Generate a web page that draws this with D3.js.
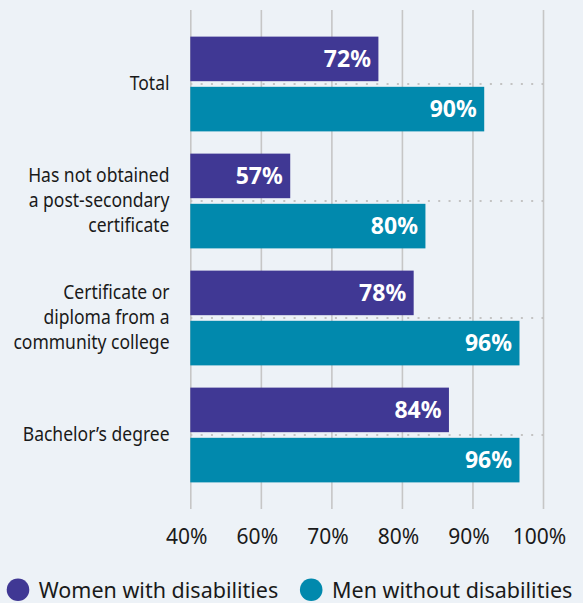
<!DOCTYPE html>
<html>
<head>
<meta charset="utf-8">
<script src="https://cdn.jsdelivr.net/npm/d3@7/dist/d3.min.js"></script>
<style>
  html, body { margin: 0; padding: 0; background: #edf2f7; }
  svg { display: block; font-family: "Noto Sans", "Open Sans", sans-serif; }
</style>
</head>
<body>
<svg id="chart" width="583" height="603"></svg>
<script>
// Employment rate by highest level of education
const categories = ["Total", "No post-secondary", "College", "Bachelor"];
const categoryLines = [
  ["Total"],
  ["Has not obtained", "a post-secondary", "certificate"],
  ["Certificate or", "diploma from a", "community college"],
  ["Bachelor’s degree"]
];
const seriesNames = ["Women with disabilities", "Men without disabilities"];
const womenValues = [72, 57, 78, 84];
const menValues = [90, 80, 96, 96];
const tickLabels = ["40%", "60%", "70%", "80%", "90%", "100%"];
const seriesColors = ["#403894", "#0189ad"];

const W = 583, H = 603;
const plotLeft = 190.3, plotRight = 543, plotTop = 10, plotBottom = 509;

const svg = d3.select("#chart");
svg.append("rect").attr("width", W).attr("height", H).attr("fill", "#edf2f7");

const x = d3.scaleLinear().domain([40, 100]).range([plotLeft, plotRight]);
const gridX = d3.scalePoint().domain(tickLabels).range(x.range());

const y0 = d3.scaleBand().domain(categories)
  .range([plotTop, plotBottom]).paddingInner(0.19).paddingOuter(0.2275);
const y1 = d3.scaleBand().domain(seriesNames)
  .range([0, y0.bandwidth()]).paddingInner(0.112);
const color = d3.scaleOrdinal().domain(seriesNames).range(seriesColors);

// Vertical gridlines and bottom labels
const axis = svg.append("g")
  .attr("transform", `translate(0,${plotBottom})`)
  .call(d3.axisBottom(gridX).tickSize(-(plotBottom - plotTop)).tickPadding(20));
axis.select(".domain").remove();
axis.selectAll(".tick line").attr("stroke", "#c6c6c6").attr("stroke-width", 1.6);
axis.selectAll(".tick text")
  .attr("fill", "#1a1a1a").attr("font-size", 21).attr("dx", -4)
  .style("font-family", "'Noto Sans', sans-serif");

const rows = categories.map((c, i) => ({
  key: c, lines: categoryLines[i],
  values: [womenValues[i], menValues[i]]
}));

// Dotted separators between the paired bars
svg.append("g").selectAll("line").data(rows).join("line")
  .attr("x1", plotLeft).attr("x2", plotRight + 2)
  .attr("y1", d => y0(d.key) + y0.bandwidth() / 2)
  .attr("y2", d => y0(d.key) + y0.bandwidth() / 2)
  .attr("stroke", "#c3c3c3").attr("stroke-width", 2)
  .attr("stroke-dasharray", "2,8.33");

// Bars
const groups = svg.append("g").selectAll("g").data(rows).join("g")
  .attr("transform", d => `translate(0,${y0(d.key)})`);

const cells = groups.selectAll("g")
  .data(d => d.values.map((v, j) => ({ series: seriesNames[j], value: v })))
  .join("g");

cells.append("rect")
  .attr("x", x(40))
  .attr("y", d => y1(d.series))
  .attr("width", d => x(d.value) - x(40))
  .attr("height", y1.bandwidth())
  .attr("fill", d => color(d.series));

cells.append("text")
  .attr("x", d => x(d.value) - 7.5)
  .attr("y", d => y1(d.series) + y1.bandwidth() / 2)
  .attr("dy", "0.36em")
  .attr("text-anchor", "end")
  .attr("fill", "#ffffff")
  .attr("font-size", 23)
  .attr("font-weight", 700)
  .text(d => d.value + "%");

// Category labels (semi-condensed)
const labelRight = 169.5;
const lineH = 25;
const labels = svg.append("g").selectAll("text").data(rows).join("text")
  .attr("transform", d => `translate(${labelRight},${y0(d.key) + y0.bandwidth() / 2 + 6}) scale(0.875,1)`)
  .attr("text-anchor", "end")
  .attr("fill", "#1a1a1a")
  .attr("font-size", 20);
labels.selectAll("tspan")
  .data(d => d.lines.map((t, k) => ({ t, k, n: d.lines.length })))
  .join("tspan")
  .attr("x", 0)
  .attr("y", d => (d.k - (d.n - 1) / 2) * lineH)
  .text(d => d.t);

// Legend
const legend = svg.append("g");
let lx = 6.7;
const ly = 589.8, r = 11.3;
seriesNames.forEach((name, i) => {
  legend.append("circle")
    .attr("cx", lx + r).attr("cy", ly).attr("r", r)
    .attr("fill", color(name));
  const t = legend.append("text")
    .attr("x", lx + 2 * r + 9.5).attr("y", 597.5)
    .attr("fill", "#1a1a1a").attr("font-size", 21.5)
    .text(name);
  lx = lx + 2 * r + 9.5 + t.node().getComputedTextLength() + 21.6;
});
</script>
</body>
</html>
